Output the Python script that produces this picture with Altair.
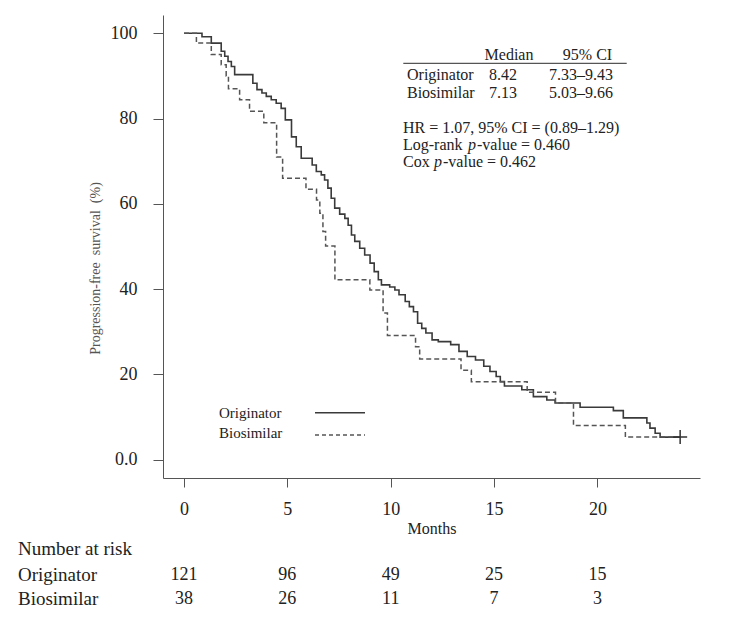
import altair as alt
import pandas as pd

# ---------------- data ----------------
orig_time = [0, 0.87, 1.32, 1.8, 1.97, 2.13, 2.29, 2.45, 3.33, 3.53, 3.77, 3.98, 4.22, 4.46, 4.7,
             4.9, 5.2, 5.43, 5.67, 6.2, 6.4, 6.64, 6.8, 6.96, 7.12, 7.29, 7.53, 7.78, 7.94, 8.1,
             8.26, 8.5, 8.74, 9.0, 9.2, 9.4, 9.55, 9.95, 10.2, 10.4, 10.7, 10.9, 11.1, 11.3, 11.5,
             11.7, 12.0, 12.3, 12.9, 13.3, 13.7, 14.1, 14.5, 14.8, 15.1, 15.3, 15.5, 16.34, 16.9,
             17.55, 17.95, 19.16, 20.77, 21.25, 22.39, 22.54, 22.79, 23.03, 24.0]
orig_surv = [100, 99.2, 97.7, 95.8, 94.6, 93.4, 92.2, 90.3, 88.3, 86.8, 86.0, 85.2, 84.4, 83.6, 82.4,
             79.7, 75.7, 73.4, 70.7, 69.1, 67.6, 66.8, 65.6, 63.7, 61.3, 59.0, 57.6, 56.6, 55.0, 52.7,
             51.2, 49.6, 48.0, 46.1, 44.1, 42.2, 41.0, 40.5, 39.8, 38.7, 37.1, 35.9, 34.7, 32.0, 30.8,
             29.7, 28.1, 27.7, 27.0, 25.4, 24.2, 23.4, 21.9, 20.7, 19.5, 18.3, 17.3, 16.4, 14.8,
             14.0, 13.3, 12.3, 11.5, 9.8, 8.6, 7.4, 6.2, 5.3, 5.3]

bio_time = [0, 0.6, 1.32, 1.8, 2.04, 2.15, 2.69, 3.17, 3.86, 4.48, 4.77, 5.9, 6.41, 6.57, 6.72,
            6.85, 7.3, 8.99, 9.63, 9.84, 11.2, 11.4, 13.4, 13.9, 16.6, 17.97, 18.84, 21.35, 23.9]
bio_surv = [100, 97.7, 95.0, 92.6, 90.0, 87.0, 84.4, 81.7, 79.0, 71.0, 66.0, 63.4, 60.9, 57.8, 53.5,
            50.1, 42.2, 39.8, 34.4, 29.1, 26.5, 23.6, 21.0, 18.3, 15.8, 13.3, 8.0, 5.3, 5.3]

risk_months = [0, 5, 10, 15, 20]
risk_orig = [121, 96, 49, 25, 15]
risk_bio = [38, 26, 11, 7, 3]

groups = ["Originator", "Biosimilar"]
medians = ["8.42", "7.13"]
med_ci = ["7.33\u20139.43", "5.03\u20139.66"]
hr_text = "HR = 1.07, 95% CI = (0.89\u20131.29)"
logrank_p = "0.460"
cox_p = "0.462"

x_ticks = [0, 5, 10, 15, 20]
y_ticks = [0, 20, 40, 60, 80, 100]

# ---------------- styling ----------------
FONT = "Liberation Serif"
TXT = "#222222"
AX = "#555555"
W, H = 537, 463
TS = 16  # stats table font size

xs = alt.Scale(domain=[-1.016, 24.96], nice=False, zero=False)
ys = alt.Scale(domain=[-4.29, 104.29], nice=False, zero=False)

x_axis = alt.Axis(values=x_ticks, title="Months", grid=False, domainColor=AX, tickColor=AX,
                  tickSize=9, labelPadding=13, labelFont=FONT, labelFontSize=18, labelColor=TXT,
                  titleFont=FONT, titleFontSize=16, titleFontWeight="normal", titleColor=TXT,
                  titleY=55, titleBaseline="alphabetic", labelFlush=False)
y_axis = alt.Axis(values=y_ticks, title="Progression-free\u00a0 survival\u00a0 (%)", grid=False,
                  domainColor=AX, tickColor=AX, tickSize=10, labelPadding=16,
                  labelFont=FONT, labelFontSize=18, labelColor=TXT,
                  labelExpr="datum.value == 0 ? '0.0' : datum.label",
                  titleFont=FONT, titleFontSize=14, titleFontWeight="normal", titleColor="#555555",
                  titleAngle=-90, titleX=-64, titleY=253, titleAlign="center",
                  titleBaseline="alphabetic")

df_o = pd.DataFrame({"t": orig_time, "s": orig_surv})
df_b = pd.DataFrame({"t": bio_time, "s": bio_surv})

orig_line = alt.Chart(df_o).mark_line(interpolate="step-after", color="#3a3a3a", strokeWidth=1.6).encode(
    x=alt.X("t:Q", scale=xs, axis=x_axis), y=alt.Y("s:Q", scale=ys, axis=y_axis))
bio_line = alt.Chart(df_b).mark_line(interpolate="step-after", color="#555555", strokeWidth=1.5,
                                     strokeDash=[5, 3]).encode(x="t:Q", y="s:Q")
censor = alt.Chart(df_o.tail(1)).mark_point(shape="M-1,0L1,0M0,-1L0,1", size=196, filled=False,
                                            stroke="#333333", strokeWidth=1.5, opacity=1).encode(
    x="t:Q", y="s:Q")


def label(text, x, y, align="left", size=TS, style="normal", color=TXT):
    return alt.Chart(pd.DataFrame({"lab": [text]})).mark_text(
        font=FONT, fontSize=size, fontStyle=style, color=color, align=align, baseline="middle"
    ).encode(x=alt.value(x), y=alt.value(y), text="lab:N")


def hline(x1, x2, y, dash=None, width=1.3, color="#444444"):
    kw = {"color": color, "strokeWidth": width}
    if dash:
        kw["strokeDash"] = dash
    return alt.Chart(pd.DataFrame({"k": [0]})).mark_rule(**kw).encode(
        x=alt.value(x1), x2=alt.value(x2), y=alt.value(y))


layers = [orig_line, bio_line, censor]

# stats table (top right)
layers += [label("Median", 346, 40, "center"), label("95% CI", 424.5, 40, "center"),
           hline(240.3, 463.7, 48.3, width=1.2, color="#555555")]
row_y = [60, 78.3]
for g, m, c, yy in zip(groups, medians, med_ci, row_y):
    layers += [label(g, 244, yy), label(m, 340, yy, "center"), label(c, 418, yy, "center")]
layers += [label(hr_text, 240, 113.3),
           label("Log-rank", 240, 130), label("p", 305, 130, style="italic"),
           label("-value = " + logrank_p, 314, 130),
           label("Cox", 240, 146.7), label("p", 271, 146.7, style="italic"),
           label("-value = " + cox_p, 280, 146.7)]

# legend
layers += [label(groups[0], 56, 397.7, size=15), label(groups[1], 56, 418.3, size=15),
           hline(152, 202, 397.7, width=1.5, color="#3a3a3a"),
           hline(152, 202, 420, dash=[4, 3], width=1.4, color="#555555")]

# number at risk table
df_ro = pd.DataFrame({"t": risk_months, "n": risk_orig})
df_rb = pd.DataFrame({"t": risk_months, "n": risk_bio})
risk_o = alt.Chart(df_ro).mark_text(font=FONT, fontSize=18, color=TXT, baseline="middle").encode(
    x=alt.X("t:Q", scale=xs), y=alt.value(560), text="n:Q")
risk_b = alt.Chart(df_rb).mark_text(font=FONT, fontSize=18, color=TXT, baseline="middle").encode(
    x=alt.X("t:Q", scale=xs), y=alt.value(584), text="n:Q")
layers += [label("Number at risk", -145, 534, size=19),
           label(groups[0], -145, 560, size=19), label(groups[1], -145, 584, size=19),
           risk_o, risk_b]

chart = alt.layer(*layers).properties(
    width=W, height=H,
    background="white",
    autosize=alt.AutoSizeParams(type="none"),
    padding={"left": 155, "top": 7, "right": 40, "bottom": 130},
).configure_view(stroke=None)

chart.save("out.html", embed_options={"renderer": "svg", "actions": False})
